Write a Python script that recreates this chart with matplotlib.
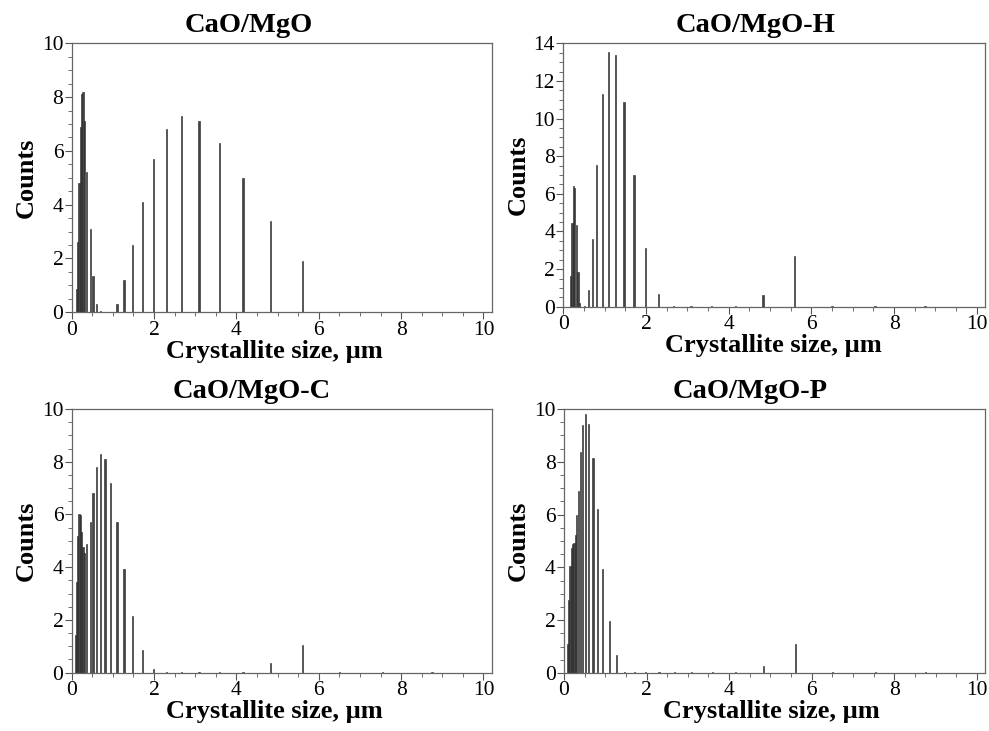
import matplotlib.pyplot as plt
from matplotlib.ticker import MultipleLocator

plt.rcParams['font.family'] = ['Liberation Serif', 'DejaVu Serif']

# common size bins (um)
sizes = [0.09, 0.115, 0.145, 0.175, 0.21, 0.24, 0.275, 0.31, 0.355, 0.39,
         0.45, 0.52, 0.60, 0.70, 0.81, 0.94, 1.10, 1.27, 1.47, 1.71,
         1.98, 2.30, 2.67, 3.09, 3.59, 4.16, 4.83, 5.60, 6.50, 7.54, 8.75]

counts_cao = [0.0, 0.85, 2.6, 4.8, 6.9, 8.1, 8.2, 7.1, 5.2, 0.0,
              3.1, 1.35, 0.3, 0.05, 0.02, 0.02, 0.32, 1.2, 2.5, 4.1,
              5.7, 6.8, 7.3, 7.1, 6.3, 5.0, 3.4, 1.9, 0.0, 0.0, 0.0]

counts_h = [0.0, 0.0, 0.0, 1.63, 4.43, 6.42, 6.3, 4.35, 1.86, 0.2,
            0.0, 0.05, 0.89, 3.58, 7.54, 11.33, 13.56, 13.38, 10.87, 6.99,
            3.14, 0.68, 0.03, 0.03, 0.03, 0.03, 0.6, 2.7, 0.03, 0.03, 0.03]

counts_c = [1.43, 3.45, 5.18, 6.03, 5.98, 5.35, 4.75, 4.55, 4.88, 0.0,
            5.73, 6.83, 7.8, 8.29, 8.1, 7.19, 5.7, 3.92, 2.16, 0.86,
            0.14, 0.03, 0.03, 0.03, 0.03, 0.03, 0.37, 1.05, 0.03, 0.03, 0.03]

counts_p = [1.1, 2.77, 4.07, 4.72, 4.89, 4.94, 5.23, 5.97, 6.9, 8.37,
            9.38, 9.81, 9.42, 8.14, 6.21, 3.95, 1.96, 0.7, 0.03, 0.03,
            0.03, 0.03, 0.03, 0.03, 0.03, 0.03, 0.27, 1.1, 0.03, 0.03, 0.03]

titles = ["CaO/MgO", "CaO/MgO-H", "CaO/MgO-C", "CaO/MgO-P"]
panels = [counts_cao, counts_h, counts_c, counts_p]
ymax = [10, 14, 10, 10]

# layout: axes rectangles (figure fraction), title / xlabel horizontal spots
rects = [[0.0725, 0.5728, 0.4247, 0.3680],
         [0.5696, 0.5804, 0.4264, 0.3603],
         [0.0725, 0.0798, 0.4247, 0.3607],
         [0.5703, 0.0793, 0.4257, 0.3611]]
title_x = [0.422, 0.455, 0.429, 0.442]
xlabel_x = [0.482, 0.497, 0.482, 0.492]

fig = plt.figure(figsize=(9.89, 7.31), dpi=100)

for i, (title, counts, ym) in enumerate(zip(titles, panels, ymax)):
    ax = fig.add_axes(rects[i])
    ax.bar(sizes, counts, width=0.03, color="#444444", edgecolor="#222222", linewidth=0.4)
    ax.set_xlim(0, 10.2)
    ax.set_ylim(0, ym)
    ax.xaxis.set_major_locator(MultipleLocator(2))
    ax.xaxis.set_minor_locator(MultipleLocator(0.5))
    ax.yaxis.set_major_locator(MultipleLocator(2))
    ax.yaxis.set_minor_locator(MultipleLocator(0.5))
    ax.tick_params(which="major", direction="out", length=5, width=0.8,
                   color="#555555", labelsize=15.5, pad=1)
    ax.tick_params(which="minor", direction="out", length=3, width=0.6, color="#555555")
    for s in ax.spines.values():
        s.set_color("#666666")
        s.set_linewidth(0.9)
    ax.set_title(title, fontsize=20.5, fontweight="bold", pad=8, x=title_x[i])
    ax.set_xlabel("Crystallite size, µm", fontsize=19, fontweight="bold", labelpad=0, x=xlabel_x[i])
    ax.set_ylabel("Counts", fontsize=19, fontweight="bold", labelpad=3)

fig.savefig("out.png", dpi=100)
